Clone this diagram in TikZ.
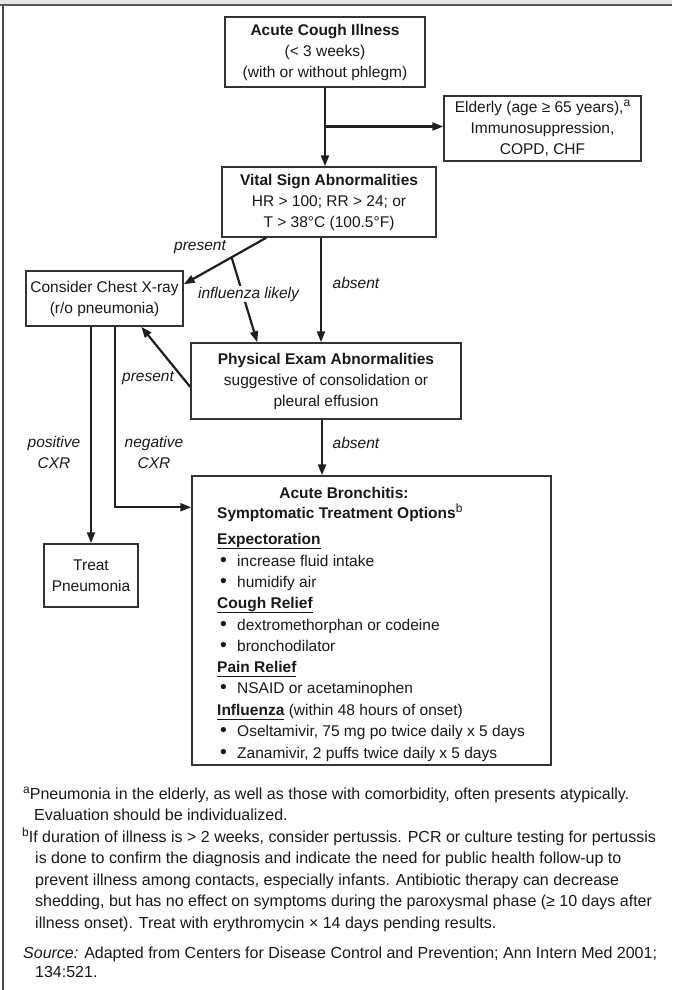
\documentclass[tikz,border=0pt]{standalone}
\usepackage{fontspec}
\setmainfont{Liberation Sans}
\usetikzlibrary{arrows.meta,calc}
\newcommand{\hul}[1]{\underline{#1\vphantom{g}}}
\newcommand{\bitem}[1]{\makebox[17pt][l]{\scalebox{1.25}{•}}#1}
\newcommand{\fsup}[1]{\raisebox{5.5pt}{\fontsize{12}{12}\selectfont #1}}
\begin{document}
\begin{tikzpicture}[x=1pt,y=-1pt,
  base/.style={font=\fontsize{15.5}{21}\selectfont, text=black!90, inner sep=0pt},
  box/.style={base, draw=black!80, line width=1.5pt, align=center},
  arr/.style={draw=black!88, line width=2.2pt, -{Triangle[length=11pt,width=8pt]}},
  lab/.style={base, font=\fontsize{15.5}{21}\selectfont\itshape, align=center},
  txt/.style={base, anchor=base west},
  fn/.style={txt, font=\fontsize{16}{21}\selectfont},
]
\useasboundingbox (0,0) rectangle (672,990);
\fill[black!10] (0,0) rectangle (672,5);
\draw[black!65, line width=2pt] (0,5) -- (672,5);
\draw[black!70, line width=1.5pt] (3,5) -- (3,990);

% boxes
\node[box, minimum width=200pt, minimum height=70pt] (acute) at (325,52)
  {\textbf{Acute Cough Illness}\\(< 3 weeks)\\(with or without phlegm)};
\node[box, minimum width=197pt, minimum height=65pt] (eld) at (542.5,128.5)
  {Elderly (age ≥ 65 years),\fsup{a}\\Immunosuppression,\\COPD, CHF};
\node[box, minimum width=214pt, minimum height=70pt] (vital) at (329,202)
  {\textbf{Vital Sign Abnormalities}\\HR > 100; RR > 24; or\\T > 38°C (100.5°F)};
\node[box, minimum width=157pt, minimum height=55pt] (chest) at (104.5,298.5)
  {Consider Chest X-ray\\(r/o pneumonia)};
\node[box, minimum width=270pt, minimum height=76pt] (phys) at (326,381)
  {\textbf{Physical Exam Abnormalities}\\suggestive of consolidation or\\pleural effusion};
\node[box, minimum width=94pt, minimum height=63pt] (treat) at (91,575.5)
  {Treat\\Pneumonia};
\node[box, minimum width=359pt, minimum height=289pt] (bron) at (371.5,620.5) {};

% connectors
\draw[arr] (acute.south) -- (acute.south |- vital.north);
\coordinate (j1) at ($(acute.south |- eld.west)+(0,-2)$);
\draw[arr] (j1) -- (j1 -| eld.west);
\coordinate (vp) at ($(vital.south west)+(45,0)$);
\coordinate (cp) at ($(chest.north east)+(0,14)$);
\draw[arr] (vp) -- (cp);
\coordinate (br) at ($(vp)!0.42!(cp)$);
\coordinate (pn) at ($(phys.north west)+(67,0)$);
\draw[arr] (br) -- (pn);
\draw[arr] ([xshift=-8pt]vital.south) -- ([xshift=-8pt]vital.south |- phys.north);
\draw[arr] ($(phys.west)+(0,6)$) -- ($(chest.south west)+(116,0)$);
\draw[arr] ([xshift=-4pt]phys.south) -- ([xshift=-4pt]phys.south |- bron.north);
\draw[arr] (chest.south -| treat.north) -- (treat.north);
\draw[arr] ($(chest.south west)+(90,0)$) |- ($(bron.north west)+(0,32)$);

% labels
\node[lab] (pr1) at (200,247) {present};
\node[lab, fill=white, inner sep=1pt] (inf) at (248.5,294) {influenza likely};
\node[lab] (ab1) at (356,283) {absent};
\node[lab] (ab2) at (356,443) {absent};
\node[lab] (pr2) at (148,378) {present};
\node[lab] (pos) at (54,452) {positive\\CXR};
\node[lab] (neg) at (154,452) {negative\\CXR};

% bronchitis contents
\node[base, anchor=base, font=\fontsize{15.5}{21}\selectfont\bfseries] (bt1) at (344,498) {Acute Bronchitis:};
\node[txt] (bt2) at (217,518) {\textbf{Symptomatic Treatment Options}\fsup{b}};
\node[txt] (h1) at (217,544) {\hul{\textbf{Expectoration}}};
\node[txt] (e1) at (220,566) {\bitem{increase fluid intake}};
\node[txt] (e2) at (220,587) {\bitem{humidify air}};
\node[txt] (h2) at (217,608) {\hul{\textbf{Cough Relief}}};
\node[txt] (c1) at (220,630) {\bitem{dextromethorphan or codeine}};
\node[txt] (c2) at (220,651) {\bitem{bronchodilator}};
\node[txt] (h3) at (217,672) {\hul{\textbf{Pain Relief}}};
\node[txt] (p1) at (220,693) {\bitem{NSAID or acetaminophen}};
\node[txt] (h4) at (217,715) {\hul{\textbf{Influenza}} (within 48 hours of onset)};
\node[txt] (i1) at (220,736) {\bitem{Oseltamivir, 75 mg po twice daily x 5 days}};
\node[txt] (i2) at (220,758) {\bitem{Zanamivir, 2 puffs twice daily x 5 days}};

% footnotes
\node[fn] (fa1) at (23,799) {\fsup{a}Pneumonia in the elderly, as well as those with comorbidity, often presents atypically.};
\node[fn] (fa2) at (34,820) {Evaluation should be individualized.};
\node[fn] (fb1) at (22,842) {\fsup{b}If duration of illness is > 2 weeks, consider pertussis. PCR or culture testing for pertussis};
\node[fn] (fb2) at (35,863) {is done to confirm the diagnosis and indicate the need for public health follow-up to};
\node[fn] (fb3) at (35,885) {prevent illness among contacts, especially infants. Antibiotic therapy can decrease};
\node[fn] (fb4) at (35,906) {shedding, but has no effect on symptoms during the paroxysmal phase (≥ 10 days after};
\node[fn] (fb5) at (35,928) {illness onset). Treat with erythromycin × 14 days pending results.};
\node[fn] (src1) at (23,958) {\textit{Source:} Adapted from Centers for Disease Control and Prevention; Ann Intern Med 2001;};
\node[fn] (src2) at (35,977) {134:521.};
\end{tikzpicture}
\end{document}
